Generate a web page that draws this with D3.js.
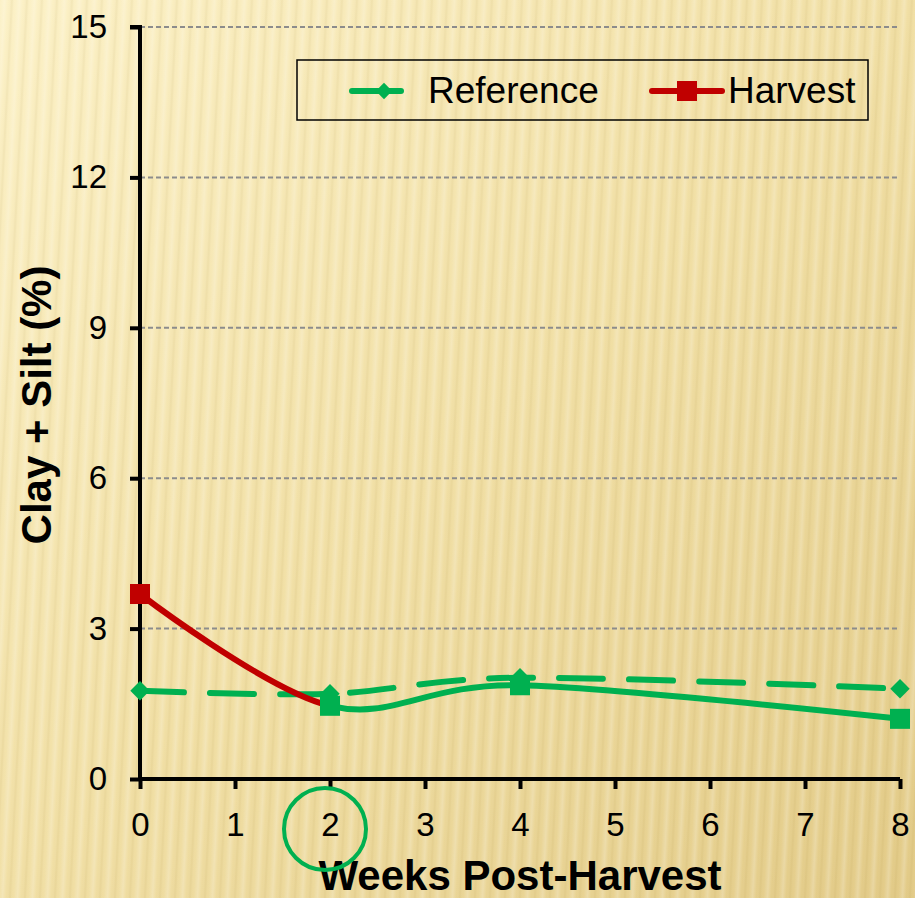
<!DOCTYPE html>
<html>
<head>
<meta charset="utf-8">
<script src="https://cdn.jsdelivr.net/npm/d3@7"></script>
<style>
  html, body { margin: 0; padding: 0; overflow: hidden; }
  svg { display: block; font-family: Arial, "Liberation Sans", sans-serif; }
</style>
</head>
<body>
<script>
// Sampling weeks and measured clay + silt content (%)
const weeks = [0, 2, 4, 8];
const referenceValues = [1.76, 1.70, 2.02, 1.80];
const harvestValues = [3.69, 1.46, 1.87, 1.20];
const xTicks = [0, 1, 2, 3, 4, 5, 6, 7, 8];
const yTicks = [0, 3, 6, 9, 12, 15];
const seriesNames = ["Reference", "Harvest"];
const highlightedWeek = 2;

const W = 915, H = 898;
const GREEN = "#00b050", RED = "#c00000";
const FONT = "Arial, 'Liberation Sans', sans-serif";

const svg = d3.select("body").append("svg").attr("width", W).attr("height", H);
const defs = svg.append("defs");

// Parchment background: diagonal warm gradient plus soft vertical stripes
const bg = defs.append("linearGradient").attr("id", "bgGrad")
  .attr("x1", "0").attr("y1", "0").attr("x2", "1").attr("y2", "1");
bg.append("stop").attr("offset", "0").attr("stop-color", "#fcf1c6");
bg.append("stop").attr("offset", "0.5").attr("stop-color", "#f1dfa4");
bg.append("stop").attr("offset", "1").attr("stop-color", "#e2ca86");

const sg = defs.append("linearGradient").attr("id", "stripeGrad")
  .attr("x1", "0").attr("y1", "0").attr("x2", "1").attr("y2", "0");
sg.append("stop").attr("offset", "0").attr("stop-color", "#ffffff").attr("stop-opacity", 0);
sg.append("stop").attr("offset", "0.3").attr("stop-color", "#ffffff").attr("stop-opacity", 0.22);
sg.append("stop").attr("offset", "0.55").attr("stop-color", "#ffffff").attr("stop-opacity", 0);
sg.append("stop").attr("offset", "0.8").attr("stop-color", "#9a7a2a").attr("stop-opacity", 0.1);
sg.append("stop").attr("offset", "1").attr("stop-color", "#ffffff").attr("stop-opacity", 0);

const pat = defs.append("pattern").attr("id", "stripes")
  .attr("patternUnits", "userSpaceOnUse").attr("width", 15).attr("height", 898)
  .attr("patternTransform", "skewX(-3)");
pat.append("rect").attr("width", 15).attr("height", 898).attr("fill", "url(#stripeGrad)");

svg.append("rect").attr("width", W).attr("height", H).attr("fill", "url(#bgGrad)");
svg.append("rect").attr("x", -100).attr("width", W + 200).attr("height", H).attr("fill", "url(#stripes)");

// Scales
const x = d3.scaleLinear().domain([0, 8]).range([140, 900]);
const y = d3.scaleLinear().domain([0, 15]).range([779, 27]);

// Horizontal gridlines
svg.append("g").selectAll("line").data(yTicks.filter(d => d > 0)).join("line")
  .attr("x1", x(0)).attr("x2", x(8))
  .attr("y1", d => y(d)).attr("y2", d => y(d))
  .attr("stroke", "#8c8c8c").attr("stroke-width", 2).attr("stroke-dasharray", "5,3");

// Axes
const yAxis = svg.append("g").attr("transform", `translate(${x(0)},0)`)
  .call(d3.axisLeft(y).tickValues(yTicks).tickSize(10).tickPadding(23));
const xAxis = svg.append("g").attr("transform", `translate(0,${y(0)})`)
  .call(d3.axisBottom(x).tickValues(xTicks).tickSize(10).tickPadding(24));
[xAxis, yAxis].forEach(g => {
  g.attr("font-size", 33).attr("font-family", FONT);
  g.select(".domain").attr("stroke", "#000").attr("stroke-width", 4);
  g.selectAll(".tick line").attr("stroke", "#000").attr("stroke-width", 4);
  g.selectAll(".tick text").attr("fill", "#000");
});
yAxis.select(".domain").attr("d", `M-10,${y(15)}H0V${y(0)}`);
xAxis.select(".domain").attr("d", `M${x(0)},0H${x(8)}`);

// Axis titles
svg.append("text").attr("x", 520).attr("y", 890).attr("text-anchor", "middle")
  .attr("font-size", 42).attr("font-weight", "bold").text("Weeks Post-Harvest");
svg.append("text").attr("transform", "translate(51,405) rotate(-90)").attr("text-anchor", "middle")
  .attr("font-size", 42).attr("font-weight", "bold").text("Clay + Silt (%)");

// Smoothed series lines
const refData = weeks.map((w, i) => [w, referenceValues[i]]);
const harData = weeks.map((w, i) => [w, harvestValues[i]]);
const line = d3.line().x(d => x(d[0])).y(d => y(d[1])).curve(d3.curveCardinal.tension(0));

svg.append("path").attr("d", line(refData)).attr("fill", "none")
  .attr("stroke", GREEN).attr("stroke-width", 6).attr("stroke-linecap", "round")
  .attr("stroke-dasharray", "44,26");

// Harvest line: red up to the highlighted week, green afterwards
defs.append("clipPath").attr("id", "clipBefore").append("rect")
  .attr("x", 0).attr("y", 0).attr("width", x(highlightedWeek)).attr("height", H);
defs.append("clipPath").attr("id", "clipAfter").append("rect")
  .attr("x", x(highlightedWeek)).attr("y", 0).attr("width", W).attr("height", H);
svg.append("path").attr("d", line(harData)).attr("fill", "none").attr("clip-path", "url(#clipBefore)")
  .attr("stroke", RED).attr("stroke-width", 6).attr("stroke-linecap", "round");
svg.append("path").attr("d", line(harData)).attr("fill", "none").attr("clip-path", "url(#clipAfter)")
  .attr("stroke", GREEN).attr("stroke-width", 6).attr("stroke-linecap", "round");

// Markers
const diamondPath = d3.symbol().type(d3.symbolSquare2).size(240)();
svg.append("g").selectAll("path").data(refData).join("path")
  .attr("d", diamondPath)
  .attr("transform", d => `translate(${x(d[0])},${y(d[1])}) rotate(45)`)
  .attr("fill", GREEN);
svg.append("g").selectAll("rect").data(harData).join("rect")
  .attr("x", d => x(d[0]) - 10).attr("y", d => y(d[1]) - 10)
  .attr("width", 20).attr("height", 20)
  .attr("fill", d => d[0] < highlightedWeek ? RED : GREEN);

// Highlight ring around the week-2 tick label
svg.append("circle").attr("cx", x(highlightedWeek) - 5).attr("cy", 829).attr("r", 41)
  .attr("fill", "none").attr("stroke", GREEN).attr("stroke-width", 4);

// Legend
const lg = svg.append("g").attr("font-family", FONT);
lg.append("rect").attr("x", 297).attr("y", 60).attr("width", 571).attr("height", 60)
  .attr("fill", "none").attr("stroke", "#000").attr("stroke-width", 1.5);
lg.append("line").attr("x1", 352).attr("x2", 401).attr("y1", 91).attr("y2", 91)
  .attr("stroke", GREEN).attr("stroke-width", 6).attr("stroke-linecap", "round");
lg.append("path").attr("d", d3.symbol().type(d3.symbolSquare2).size(170)())
  .attr("transform", "translate(384,91) rotate(45)").attr("fill", GREEN);
lg.append("text").attr("x", 428).attr("y", 103).attr("font-size", 37).text(seriesNames[0]);
lg.append("line").attr("x1", 652).attr("x2", 722).attr("y1", 91).attr("y2", 91)
  .attr("stroke", RED).attr("stroke-width", 6).attr("stroke-linecap", "round");
lg.append("rect").attr("x", 677).attr("y", 81).attr("width", 20).attr("height", 20).attr("fill", RED);
lg.append("text").attr("x", 728).attr("y", 103).attr("font-size", 37).text(seriesNames[1]);
</script>
</body>
</html>
